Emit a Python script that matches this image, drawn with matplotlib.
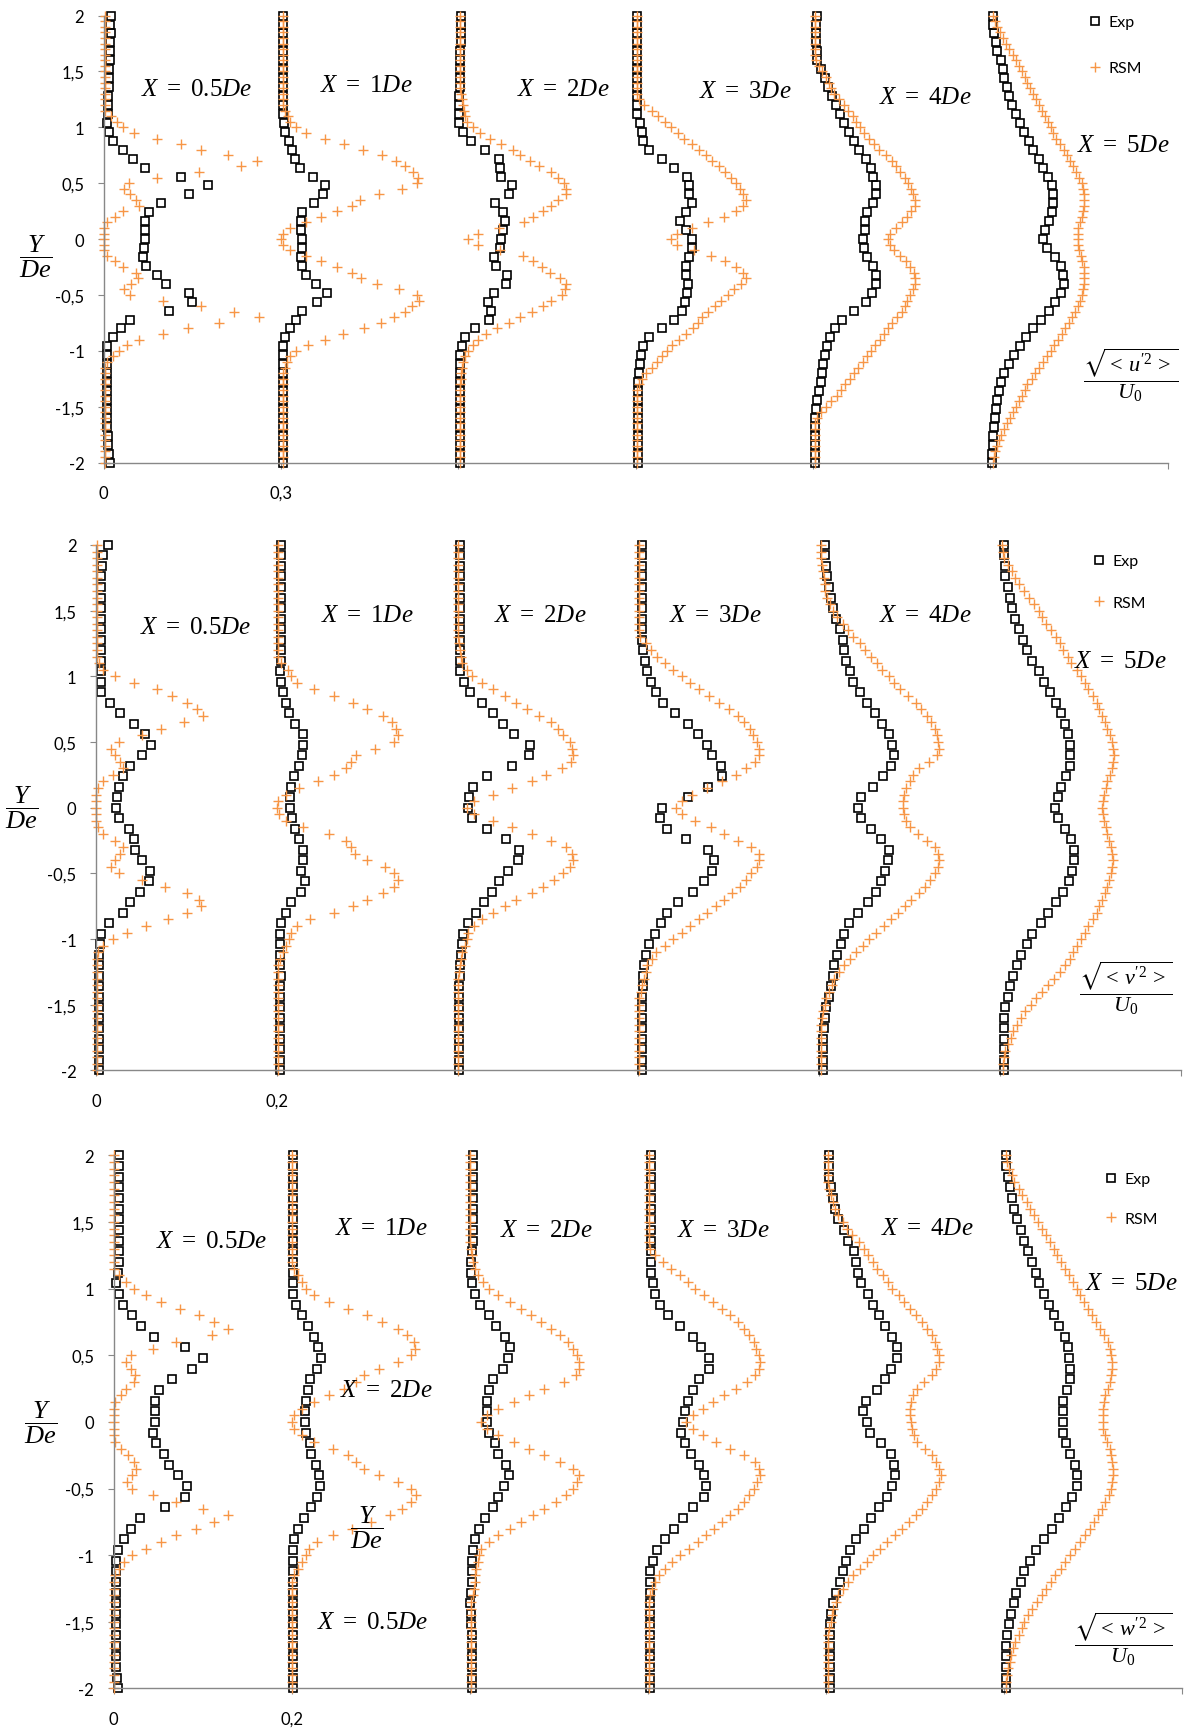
import matplotlib
matplotlib.use('Agg')
import matplotlib.pyplot as plt
import numpy as np

plt.rcParams['font.family'] = ['Lato', 'DejaVu Sans']
plt.rcParams['mathtext.fontset'] = 'custom'
plt.rcParams['mathtext.rm'] = 'Liberation Serif'
plt.rcParams['mathtext.it'] = 'Liberation Serif:italic'
plt.rcParams['mathtext.fallback'] = 'stix'

W, H = 1184, 1731

# transverse positions Y/De
y_rsm = [2.0, 1.95, 1.9, 1.85, 1.8, 1.75, 1.7, 1.65, 1.6, 1.55, 1.5, 1.45, 1.4, 1.35, 1.3, 1.25, 1.2, 1.15, 1.1, 1.05,
         1.0, 0.95, 0.9, 0.85, 0.8, 0.75, 0.7, 0.65, 0.6, 0.55, 0.5, 0.45, 0.4, 0.35, 0.3, 0.25, 0.2, 0.15, 0.1, 0.05,
         0.0, -0.05, -0.1, -0.15, -0.2, -0.25, -0.3, -0.35, -0.4, -0.45, -0.5, -0.55, -0.6, -0.65, -0.7, -0.75, -0.8, -0.85, -0.9, -0.95,
         -1.0, -1.05, -1.1, -1.15, -1.2, -1.25, -1.3, -1.35, -1.4, -1.45, -1.5, -1.55, -1.6, -1.65, -1.7, -1.75, -1.8, -1.85, -1.9, -1.95, -2.0]
y_exp = [2.0, 1.92, 1.84, 1.76, 1.68, 1.6, 1.52, 1.44, 1.36, 1.28, 1.2, 1.12, 1.04,
         0.96, 0.88, 0.8, 0.72, 0.64, 0.56, 0.48, 0.4, 0.32, 0.24, 0.16, 0.08, 0.0,
         -0.08, -0.16, -0.24, -0.32, -0.4, -0.48, -0.56, -0.64, -0.72, -0.8, -0.88, -0.96,
         -1.04, -1.12, -1.2, -1.28, -1.36, -1.44, -1.52, -1.6, -1.68, -1.76, -1.84, -1.92, -2.0]

stations = ['0.5', '1', '2', '3', '4', '5']

# rms values in 1e-3 U0, one list per station X = 0.5, 1, 2, 3, 4, 5 De
u_rsm = [
    [3, 3, 3, 3, 3, 3, 3, 3, 3, 3, 3, 3, 3, 3, 3, 3, 3, 3, 13, 23,
     32, 52, 90, 130, 165, 210, 260, 232, 162, 90, 42, 35, 45, 55, 60, 33, 19, 6, 1, 0,
     0, 0, 1, 6, 19, 33, 55, 58, 46, 35, 45, 100, 165, 220, 262, 195, 142, 100, 60, 40,
     26, 16, 6, 3, 3, 3, 3, 3, 3, 3, 3, 3, 3, 3, 3, 3, 3, 3, 3, 3, 3],
    [3, 3, 3, 3, 3, 3, 3, 3, 3, 3, 3, 3, 3, 3, 3, 3, 3, 6, 11, 16,
     26, 42, 74, 107, 139, 171, 194, 210, 223, 232, 230, 204, 165, 133, 120, 94, 68, 42, 16, 3,
     0, 3, 16, 42, 68, 94, 120, 135, 162, 200, 230, 233, 222, 210, 192, 170, 140, 105, 75, 45,
     25, 16, 10, 6, 3, 3, 3, 3, 3, 3, 3, 3, 3, 3, 3, 3, 3, 3, 3, 3, 3],
    [3, 3, 3, 3, 3, 3, 3, 3, 3, 3, 3, 3, 3, 3, 4, 6, 8, 10, 11, 14,
     24, 37, 53, 72, 92, 105, 121, 137, 156, 169, 179, 182, 182, 169, 156, 144, 127, 111, 68, 34,
     17, 34, 70, 110, 127, 142, 155, 172, 182, 180, 175, 156, 143, 124, 105, 85, 66, 47, 34, 24,
     17, 11, 8, 6, 5, 4, 3, 3, 3, 3, 3, 3, 3, 3, 3, 3, 3, 3, 3, 3, 3],
    [3, 3, 3, 3, 3, 3, 3, 3, 3, 3, 3, 3, 3, 3, 3, 6, 14, 27, 38, 49,
     60, 71, 82, 95, 107, 119, 130, 141, 152, 162, 170, 176, 182, 186, 182, 170, 150, 122, 95, 70,
     60, 70, 98, 128, 152, 170, 182, 186, 178, 166, 156, 145, 134, 123, 113, 106, 97, 85, 73, 62,
     53, 45, 36, 27, 18, 10, 5, 3, 3, 3, 3, 3, 3, 3, 3, 3, 3, 3, 3, 3, 3],
    [4, 4, 4, 3, 3, 3, 3, 4, 6, 10, 15, 22, 27, 31, 36, 44, 53, 60, 67, 73,
     80, 87, 95, 103, 112, 124, 133, 141, 148, 155, 161, 166, 170, 173, 172, 166, 160, 150, 140, 131,
     127, 131, 138, 148, 157, 165, 171, 173, 172, 170, 165, 160, 155, 150, 142, 134, 127, 120, 113, 105,
     99, 92, 84, 76, 69, 62, 55, 48, 40, 31, 22, 13, 7, 4, 3, 3, 3, 3, 3, 3, 3],
    [5, 8, 11, 16, 21, 26, 31, 38, 44, 49, 53, 58, 63, 68, 73, 78, 83, 88, 93, 97,
     102, 107, 112, 118, 125, 130, 135, 140, 145, 150, 155, 157, 158, 158, 158, 157, 155, 152, 149, 148,
     148, 149, 151, 153, 156, 158, 159, 159, 159, 157, 155, 152, 148, 143, 138, 133, 127, 121, 115, 108,
     102, 96, 89, 83, 76, 70, 63, 58, 53, 48, 44, 39, 34, 29, 24, 19, 14, 11, 8, 6, 5],
]
u_exp = [
    [12, 11, 12, 10, 10, 10, 9, 9, 9, 8, 8, 8, 6,
     9, 15, 32, 50, 70, 130, 177, 145, 97, 76, 70, 70, 70,
     69, 66, 72, 90, 105, 145, 150, 110, 45, 30, 15, 6,
     5, 5, 5, 5, 5, 6, 6, 6, 6, 7, 8, 9, 10],
    [4, 4, 4, 4, 4, 4, 4, 4, 4, 4, 4, 4, 5,
     6, 13, 19, 24, 32, 54, 74, 71, 55, 36, 34, 34, 36,
     36, 34, 36, 42, 60, 78, 61, 36, 26, 15, 6, 3,
     3, 3, 3, 3, 3, 3, 3, 3, 3, 3, 3, 3, 3],
    [4, 4, 4, 4, 3, 3, 2, 2, 2, 1, 1, 1, 1,
     8, 22, 45, 68, 70, 72, 90, 85, 62, 75, 79, 76, 72,
     70, 60, 64, 82, 80, 60, 50, 55, 52, 28, 11, 7,
     3, 2, 2, 2, 2, 2, 2, 2, 2, 2, 2, 2, 2],
    [3, 3, 3, 3, 3, 3, 3, 3, 3, 3, 3, 3, 8,
     10, 13, 22, 44, 65, 87, 91, 91, 95, 85, 75, 85, 95,
     96, 90, 85, 86, 88, 87, 83, 78, 65, 45, 23, 13,
     9, 7, 5, 4, 4, 4, 4, 4, 4, 4, 4, 4, 4],
    [7, 5, 5, 5, 7, 7, 13, 20, 26, 33, 39, 46, 52,
     61, 69, 78, 89, 98, 102, 107, 106, 101, 91, 88, 88, 85,
     87, 92, 102, 106, 106, 100, 89, 70, 50, 37, 29, 24,
     21, 17, 15, 13, 10, 7, 5, 3, 3, 3, 3, 3, 3],
    [5, 5, 6, 10, 12, 18, 21, 24, 29, 32, 37, 44, 50,
     57, 65, 73, 83, 89, 97, 104, 106, 106, 104, 99, 93, 89,
     96, 109, 119, 123, 125, 119, 109, 99, 86, 73, 60, 50,
     40, 31, 24, 18, 14, 11, 10, 8, 6, 5, 5, 3, 3],
]

v_rsm = [
    [1, 1, 1, 1, 1, 1, 1, 1, 1, 1, 1, 1, 1, 1, 1, 1, 1, 1, 3, 8,
     21, 42, 68, 84, 101, 112, 118, 97, 72, 51, 25, 17, 21, 27, 30, 19, 8, 2, 0, 0,
     0, 0, 0, 2, 8, 21, 30, 27, 21, 17, 25, 51, 76, 101, 114, 116, 101, 80, 55, 34,
     19, 8, 2, 1, 1, 1, 1, 1, 1, 1, 1, 1, 1, 1, 1, 1, 1, 1, 1, 1, 1],
    [1, 1, 1, 1, 1, 1, 1, 1, 1, 1, 1, 1, 1, 1, 1, 1, 1, 1, 5, 12,
     16, 22, 41, 63, 84, 100, 117, 128, 132, 134, 130, 109, 88, 82, 77, 63, 46, 25, 10, 1,
     0, 2, 10, 29, 58, 77, 82, 86, 100, 120, 130, 134, 130, 117, 100, 84, 63, 37, 22, 16,
     14, 10, 7, 3, 1, 1, 1, 1, 1, 1, 1, 1, 1, 1, 1, 1, 1, 1, 1, 1, 1],
    [1, 1, 1, 1, 1, 1, 1, 1, 1, 1, 1, 1, 1, 1, 1, 2, 3, 4, 5, 10,
     16, 27, 39, 52, 65, 77, 90, 103, 111, 117, 124, 127, 128, 126, 115, 98, 82, 60, 39, 18,
     10, 18, 39, 60, 82, 103, 120, 127, 128, 124, 117, 107, 94, 82, 65, 52, 39, 27, 18, 12,
     10, 8, 5, 4, 3, 2, 1, 1, 1, 1, 1, 1, 1, 1, 1, 1, 1, 1, 1, 1, 1],
    [1, 1, 1, 1, 1, 1, 1, 1, 1, 1, 1, 1, 1, 1, 2, 8, 14, 21, 29, 38,
     48, 57, 67, 78, 89, 100, 110, 117, 123, 127, 131, 133, 133, 129, 119, 108, 93, 76, 59, 48,
     42, 48, 63, 80, 95, 110, 125, 133, 133, 131, 125, 119, 112, 104, 95, 86, 76, 67, 57, 48,
     38, 29, 20, 15, 10, 8, 6, 4, 3, 1, 1, 1, 1, 1, 1, 1, 1, 1, 1, 1, 1],
    [2, 2, 2, 3, 4, 5, 6, 7, 9, 12, 15, 20, 26, 32, 38, 45, 51, 57, 64, 70,
     77, 83, 90, 98, 107, 113, 119, 124, 128, 130, 132, 133, 130, 122, 111, 104, 100, 96, 94, 93,
     93, 94, 96, 100, 109, 119, 128, 132, 133, 132, 128, 123, 117, 110, 102, 95, 87, 80, 72, 63,
     55, 48, 41, 34, 28, 22, 17, 14, 11, 8, 6, 4, 3, 2, 2, 2, 2, 2, 2, 2, 2],
    [2, 3, 4, 9, 13, 17, 21, 27, 32, 38, 43, 47, 51, 57, 62, 66, 70, 75, 79, 85,
     90, 94, 98, 103, 107, 110, 113, 116, 119, 122, 124, 125, 126, 125, 124, 122, 119, 117, 115, 114,
     113, 114, 115, 117, 119, 121, 123, 124, 125, 124, 123, 121, 119, 116, 113, 110, 107, 103, 98, 94,
     90, 85, 81, 77, 72, 66, 60, 53, 47, 40, 34, 28, 23, 19, 15, 12, 9, 6, 4, 3, 3],
]
v_exp = [
    [13, 8, 7, 6, 6, 6, 6, 6, 6, 6, 6, 6, 5,
     5, 6, 15, 27, 42, 54, 61, 51, 38, 30, 25, 23, 22,
     25, 36, 42, 43, 51, 60, 59, 49, 38, 30, 14, 5,
     4, 3, 3, 3, 3, 3, 3, 3, 3, 3, 3, 3, 3],
    [5, 5, 5, 5, 5, 5, 5, 5, 5, 5, 5, 5, 4,
     5, 7, 10, 14, 20, 29, 29, 28, 25, 19, 16, 15, 15,
     17, 20, 25, 29, 29, 27, 31, 27, 16, 10, 5, 4,
     3, 3, 4, 5, 4, 3, 3, 3, 3, 3, 3, 3, 3],
    [3, 3, 3, 3, 3, 3, 3, 3, 3, 3, 3, 3, 3,
     7, 14, 27, 39, 50, 62, 80, 79, 60, 32, 17, 13, 12,
     16, 32, 54, 68, 67, 56, 46, 38, 29, 20, 11, 6,
     5, 4, 3, 3, 2, 2, 2, 2, 2, 2, 2, 2, 2],
    [4, 4, 4, 4, 4, 4, 4, 4, 4, 4, 5, 7, 10,
     14, 19, 27, 40, 55, 66, 76, 82, 91, 92, 77, 55, 26,
     24, 32, 53, 77, 84, 82, 73, 60, 44, 32, 25, 18,
     12, 8, 6, 5, 5, 4, 4, 4, 4, 4, 4, 4, 4],
    [6, 6, 8, 9, 11, 13, 15, 19, 23, 26, 28, 30, 34,
     38, 45, 53, 62, 70, 77, 81, 83, 80, 71, 60, 46, 43,
     46, 57, 68, 77, 76, 73, 68, 63, 54, 43, 33, 28,
     24, 20, 17, 15, 13, 11, 8, 6, 5, 4, 4, 4, 4],
    [4, 4, 6, 6, 9, 11, 13, 17, 21, 26, 30, 36, 43,
     49, 55, 62, 68, 72, 75, 78, 78, 77, 73, 68, 64, 61,
     64, 72, 79, 82, 82, 80, 76, 70, 62, 53, 45, 36,
     30, 23, 19, 15, 11, 9, 6, 5, 4, 4, 4, 4, 4],
]

w_rsm = [
    [0, 0, 0, 0, 0, 0, 0, 0, 0, 0, 0, 0, 0, 0, 0, 0, 0, 0, 6, 14,
     23, 36, 53, 75, 96, 113, 128, 111, 70, 44, 19, 14, 19, 24, 23, 14, 8, 1, 0, 0,
     0, 0, 0, 1, 8, 16, 23, 25, 21, 15, 21, 44, 70, 100, 128, 113, 92, 70, 53, 36,
     21, 12, 6, 1, 0, 0, 0, 0, 0, 0, 0, 0, 0, 0, 0, 0, 0, 0, 0, 0, 0],
    [0, 0, 0, 0, 0, 0, 0, 0, 0, 0, 0, 0, 0, 0, 0, 0, 0, 3, 7, 12,
     16, 25, 42, 63, 85, 102, 119, 130, 137, 139, 134, 119, 98, 81, 72, 59, 42, 25, 12, 3,
     0, 3, 12, 25, 46, 63, 72, 81, 98, 119, 134, 140, 134, 124, 111, 89, 68, 46, 29, 20,
     16, 12, 7, 3, 0, 0, 0, 0, 0, 0, 0, 0, 0, 0, 0, 0, 0, 0, 0, 0, 0],
    [0, 0, 0, 0, 0, 0, 0, 0, 0, 0, 0, 0, 0, 0, 2, 3, 4, 6, 9, 15,
     22, 32, 45, 58, 69, 80, 91, 101, 110, 116, 121, 123, 123, 119, 106, 84, 67, 50, 32, 19,
     13, 19, 32, 50, 67, 84, 101, 116, 123, 121, 116, 108, 97, 84, 71, 58, 45, 32, 22, 13,
     10, 9, 7, 6, 6, 5, 4, 2, 1, 1, 1, 1, 1, 1, 1, 1, 1, 1, 1, 1, 1],
    [1, 1, 1, 1, 1, 1, 1, 1, 1, 1, 1, 1, 1, 1, 3, 8, 17, 26, 36, 45,
     53, 63, 73, 83, 93, 101, 108, 114, 119, 122, 125, 126, 125, 121, 112, 99, 86, 73, 62, 51,
     43, 51, 62, 77, 93, 108, 120, 125, 126, 123, 119, 114, 108, 101, 93, 84, 75, 66, 56, 46,
     36, 27, 19, 13, 8, 5, 3, 1, 1, 1, 1, 1, 1, 1, 1, 1, 1, 1, 1, 1, 1],
    [3, 3, 3, 3, 3, 4, 6, 8, 10, 14, 19, 24, 30, 37, 43, 48, 53, 58, 64, 70,
     75, 82, 88, 95, 101, 108, 114, 119, 123, 125, 127, 127, 124, 119, 110, 103, 98, 96, 95, 95,
     96, 97, 99, 103, 111, 119, 124, 127, 129, 127, 124, 119, 114, 108, 101, 94, 86, 78, 69, 61,
     53, 46, 38, 31, 25, 19, 14, 11, 8, 7, 6, 4, 3, 3, 3, 3, 3, 3, 3, 3, 3],
    [3, 4, 6, 9, 12, 17, 21, 26, 30, 34, 38, 43, 47, 52, 56, 60, 64, 69, 73, 78,
     82, 86, 90, 95, 99, 104, 108, 113, 117, 119, 121, 122, 122, 121, 119, 117, 114, 113, 112, 112,
     112, 112, 114, 116, 119, 121, 122, 123, 123, 122, 121, 118, 114, 110, 106, 101, 97, 91, 86, 80,
     75, 69, 64, 58, 53, 48, 43, 37, 32, 27, 23, 20, 17, 13, 10, 8, 7, 5, 4, 3, 3],
]
w_exp = [
    [6, 6, 6, 6, 6, 6, 6, 6, 6, 6, 6, 5, 3,
     6, 11, 21, 31, 45, 80, 100, 88, 66, 51, 47, 47, 47,
     44, 48, 56, 62, 72, 82, 80, 58, 30, 20, 12, 5,
     3, 3, 3, 3, 3, 3, 3, 3, 3, 3, 3, 4, 5],
    [2, 2, 2, 2, 2, 2, 2, 2, 2, 2, 2, 2, 2,
     2, 5, 12, 18, 25, 30, 33, 29, 21, 18, 16, 15, 15,
     16, 21, 22, 27, 31, 32, 28, 22, 14, 7, 3, 2,
     2, 2, 2, 2, 2, 2, 2, 2, 2, 2, 2, 2, 2],
    [4, 4, 4, 4, 4, 4, 4, 4, 4, 3, 2, 2, 3,
     6, 12, 22, 30, 40, 45, 43, 37, 26, 22, 19, 19, 19,
     22, 28, 32, 41, 44, 39, 32, 26, 17, 11, 6, 4,
     3, 3, 3, 1, 0, 1, 2, 3, 3, 3, 3, 3, 3],
    [4, 4, 4, 4, 4, 4, 4, 4, 4, 4, 4, 4, 6,
     8, 14, 23, 36, 51, 60, 69, 69, 58, 51, 45, 42, 40,
     37, 42, 49, 58, 63, 65, 63, 51, 40, 30, 19, 10,
     6, 3, 3, 3, 3, 3, 3, 3, 3, 3, 3, 3, 3],
    [4, 4, 4, 6, 8, 10, 14, 20, 25, 32, 34, 36, 40,
     47, 53, 60, 67, 75, 80, 80, 73, 67, 58, 45, 42, 46,
     50, 62, 73, 77, 78, 75, 69, 60, 51, 43, 34, 27,
     23, 19, 16, 12, 8, 6, 5, 5, 5, 5, 5, 5, 5],
    [3, 3, 5, 7, 9, 12, 15, 19, 23, 27, 32, 36, 40,
     45, 51, 57, 62, 69, 72, 73, 74, 75, 71, 67, 67, 67,
     67, 70, 74, 80, 82, 82, 77, 70, 62, 54, 45, 36,
     30, 23, 19, 14, 11, 8, 6, 4, 3, 3, 3, 3, 3],
]

yticks = [2, 1.5, 1, 0.5, 0, -0.5, -1, -1.5, -2]
ytick_labels = ['2', '1,5', '1', '0,5', '0', '-0,5', '-1', '-1,5', '-2']

orange = '#F79646'
grey = '#888888'


def draw_panel(ax, exp, rsm, step, second_label):
    n = len(exp)
    for k in range(n):
        xo = k * step
        ax.plot(np.array(exp[k]) / 1000 + xo, y_exp, 's', ms=5.5, mfc='none', mec='black',
                mew=1.2, clip_on=False, label='Exp' if k == 0 else None)
        ax.plot(np.array(rsm[k]) / 1000 + xo, y_rsm, '+', ms=6.5, color=orange,
                mew=1.0, clip_on=False, label='RSM' if k == 0 else None)
    ax.set_xlim(0, step * n)
    ax.set_ylim(-2, 2)
    ax.set_xticks([k * step for k in range(n + 1)])
    ax.set_xticklabels(['0', second_label] + [''] * (n - 1))
    ax.set_yticks(yticks)
    ax.set_yticklabels(ytick_labels)
    for s in ['top', 'right']:
        ax.spines[s].set_visible(False)
    for s in ['left', 'bottom']:
        ax.spines[s].set_color(grey)
        ax.spines[s].set_linewidth(1.0)
    ax.tick_params(axis='both', direction='out', length=4, color=grey, labelsize=12)
    ax.tick_params(axis='x', pad=12)
    ax.tick_params(axis='y', pad=10)


def ftext(fig, x, y, s, size=18):
    fig.text(x / W, 1 - y / H, s, ha='center', va='center', fontsize=size)


fig = plt.figure(figsize=(W / 100, H / 100), dpi=100)

ax1 = fig.add_axes([0.0876, 0.7322, 0.8985, 0.2582])
ax2 = fig.add_axes([0.0811, 0.3810, 0.9161, 0.3036])
ax3 = fig.add_axes([0.0960, 0.0240, 0.9021, 0.3079])

draw_panel(ax1, u_exp, u_rsm, 0.3, '0,3')
draw_panel(ax2, v_exp, v_rsm, 0.2, '0,2')
draw_panel(ax3, w_exp, w_rsm, 0.2, '0,2')

for ax, (lx, ly), gap in [(ax1, (1088, 16), 2.0), (ax2, (1092, 555), 1.7), (ax3, (1104, 1173), 1.6)]:
    ax.legend(loc='upper left', bbox_to_anchor=(lx / W, 1 - ly / H), bbox_transform=fig.transFigure,
              frameon=False, borderpad=0, borderaxespad=0, handlelength=0.9, handletextpad=0.4,
              labelspacing=gap, fontsize=11.5)

# station labels
pos1 = [(197, 88), (366, 84), (563, 88), (745, 90), (925, 96), (1123, 145)]
pos2 = [(196, 627), (367, 615), (540, 615), (715, 615), (925, 615), (1120, 661)]
pos3 = [(212, 1241), (381, 1228), (546, 1230), (723, 1230), (927, 1228), (1131, 1283)]
for pos in (pos1, pos2, pos3):
    for st, (x, y) in zip(stations, pos):
        ftext(fig, x, y, r'$X\ =\ ' + st + r'De$')

# stray labels inside the bottom panel
ftext(fig, 386, 1390, r'$X\ =\ 2De$')
ftext(fig, 373, 1622, r'$X\ =\ 0.5De$')
ftext(fig, 367, 1528, r'$\dfrac{Y}{De}$', 19)

for (x, y) in [(36, 257), (22, 808), (41, 1423)]:
    ftext(fig, x, y, r'$\dfrac{Y}{De}$', 19)

ftext(fig, 1131, 375, r"$\dfrac{\sqrt{<\,u^{\prime 2}\,>}}{U_0}$", 16)
ftext(fig, 1126, 988, r"$\dfrac{\sqrt{<\,v^{\prime 2}\,>}}{U_0}$", 16)
ftext(fig, 1123, 1639, r"$\dfrac{\sqrt{<\,w^{\prime 2}\,>}}{U_0}$", 16)

fig.savefig('out.png', dpi=100)
